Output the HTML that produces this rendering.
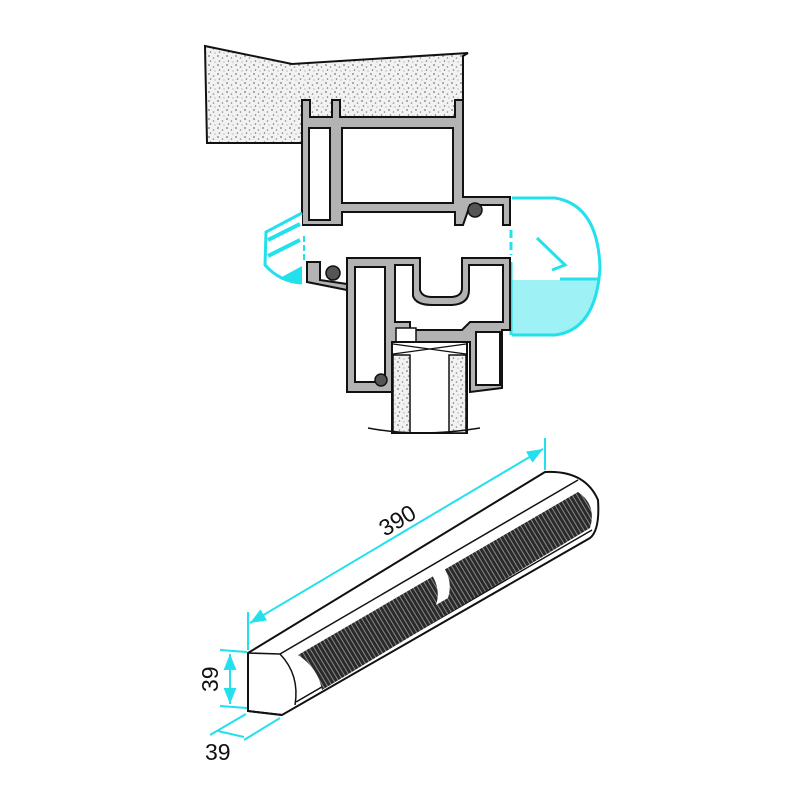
<!DOCTYPE html>
<html><head><meta charset="utf-8"><style>
html,body{margin:0;padding:0;background:#fff}
svg{display:block}
text{font-family:"Liberation Sans",sans-serif;fill:#111}
</style></head><body>
<svg width="800" height="800" viewBox="0 0 800 800" xmlns="http://www.w3.org/2000/svg">
<defs>
<pattern id="dots" width="9" height="9" patternUnits="userSpaceOnUse">
<rect width="9" height="9" fill="#f2f2f2"/>
<circle cx="2" cy="2" r="0.9" fill="#777"/><circle cx="6.5" cy="4" r="0.8" fill="#888"/>
<circle cx="3.5" cy="7" r="0.8" fill="#777"/><circle cx="8" cy="8" r="0.6" fill="#999"/>
</pattern>
<pattern id="grille" width="4" height="8" patternUnits="userSpaceOnUse" patternTransform="rotate(-31)">
<rect width="4" height="8" fill="#2a2a2a"/><rect x="3" width="1" height="8" fill="#888"/>
</pattern>
<marker id="ar" viewBox="0 0 10 10" refX="10" refY="5" markerWidth="8" markerHeight="8" orient="auto-start-reverse"><path d="M0,1 L10,5 L0,9 z" fill="#22e0ec"/></marker>
</defs>

<!-- concrete -->
<path d="M205,46 L292,64 L468,53 L463,56 L463,117 L302,117 L302,143 L207,143 Z" fill="url(#dots)" stroke="#111" stroke-width="2"/>

<!-- upper frame -->
<path fill-rule="evenodd" fill="#b3b3b3" stroke="#111" stroke-width="2"
d="M302,100 L310,100 L310,117 L332,117 L332,100 L340,100 L340,117 L455,117 L455,100 L463,100 L463,197 L510,197 L510,225 L503,225 L503,205 L470,205 L463,225 L455,225 L455,212 L342,212 L342,225 L302,225 Z
M309,128 L330,128 L330,220 L309,220 Z
M342,128 L453,128 L453,203 L342,203 Z"/>
<circle cx="475" cy="210" r="7" fill="#555" stroke="#111" stroke-width="1.5"/>

<!-- left cyan piece -->
<path d="M302,213 L266,232 L265,265 Q280,282 302,283" fill="#fff" stroke="#22e0ec" stroke-width="3"/>
<path d="M268,240 L300,224 M268,256 L300,240" stroke="#22e0ec" stroke-width="4"/>
<path d="M280,278 L302,266 L302,283 Z" fill="#22e0ec"/>
<line x1="304" y1="236" x2="304" y2="262" stroke="#22e0ec" stroke-width="2" stroke-dasharray="6,3"/>

<!-- right cyan -->
<path d="M512,280 L598,280 Q593,330 555,335 L512,335 Z" fill="#9ef2f6"/>
<path d="M512,198 L555,198 Q598,205 600,268 Q596,330 555,335 L512,335" fill="none" stroke="#22e0ec" stroke-width="3"/>
<line x1="511" y1="230" x2="511" y2="255" stroke="#22e0ec" stroke-width="3" stroke-dasharray="8,4"/>
<line x1="511" y1="262" x2="511" y2="335" stroke="#22e0ec" stroke-width="3"/>
<path d="M537,238 L565,265 L552,270 M560,279 L598,279" fill="none" stroke="#22e0ec" stroke-width="3"/>

<!-- lower sash -->
<path fill="#b3b3b3" stroke="#111" stroke-width="2"
d="M347,258 L420,258 L420,290 Q422,297 432,297 L452,297 Q462,296 462,288 L462,258 L510,258 L510,330 L502,330 L502,388 L470,392 L470,342 L393,342 L393,392 L347,392 Z"/>
<path fill="#fff" stroke="#111" stroke-width="2" d="M355,267 L385,267 L385,382 L355,382 Z"/>
<path fill="#fff" stroke="#111" stroke-width="2" d="M395,265 L413,265 L413,296 Q416,305 432,305 L452,305 Q469,304 469,290 L469,265 L503,265 L503,322 L470,322 L462,330 L410,330 L410,322 L395,322 Z"/>
<path fill="#fff" stroke="#111" stroke-width="2" d="M476,332 L500,332 L500,385 L476,385 Z"/>
<path d="M307,262 L320,262 L320,280 L347,284 L347,290 L307,282 Z" fill="#b3b3b3" stroke="#111" stroke-width="2"/>
<circle cx="333" cy="273" r="7" fill="#555" stroke="#111" stroke-width="1.5"/>
<circle cx="381" cy="380" r="6" fill="#555" stroke="#111" stroke-width="1.5"/>
<rect x="396" y="328" width="20" height="14" fill="#fff" stroke="#111" stroke-width="1.5"/>

<!-- glass -->
<rect x="392" y="342" width="75" height="91" fill="#fff" stroke="#111" stroke-width="2"/>
<rect x="393" y="355" width="17" height="78" fill="url(#dots)" stroke="#111" stroke-width="1.5"/>
<rect x="449" y="355" width="17" height="78" fill="url(#dots)" stroke="#111" stroke-width="1.5"/>
<path d="M393,344 L466,354 M393,354 L466,344" stroke="#111" stroke-width="1.2"/>
<path d="M368,428 Q420,438 480,428" fill="none" stroke="#111" stroke-width="1.5"/>

<!-- product bar -->
<path d="M248,653 L545,472 Q585,470 598,500 Q600,530 590,538 L282,715 L248,711 Z" fill="#fff" stroke="#111" stroke-width="2"/>
<path d="M248,653 L280,654 L578,480" fill="none" stroke="#111" stroke-width="1.5"/>
<path d="M280,654 Q300,675 295,705" fill="none" stroke="#111" stroke-width="1.5"/>
<path d="M296,702 L592,530" fill="none" stroke="#111" stroke-width="1.5"/>
<path d="M298,655 L578,492 Q597,505 590,528 L322,690 Q318,668 298,655 Z" fill="url(#grille)"/>
<path d="M432,575 L444,568 Q453,582 448,598 L436,605 Q441,590 432,575 Z" fill="#fff"/>
<path d="M248,653 L248,711 L282,715" fill="none" stroke="#111" stroke-width="2"/>

<!-- dimensions -->
<g stroke="#22e0ec" stroke-width="2" fill="none">
<line x1="248" y1="650" x2="248" y2="612"/>
<line x1="545" y1="470" x2="545" y2="438"/>
<line x1="250" y1="623" x2="543" y2="449" marker-start="url(#ar)" marker-end="url(#ar)"/>
<line x1="220" y1="650" x2="247" y2="652"/>
<line x1="220" y1="706" x2="247" y2="708"/>
<line x1="230" y1="654" x2="230" y2="704" marker-start="url(#ar)" marker-end="url(#ar)"/>
<line x1="246" y1="714" x2="210" y2="735"/>
<line x1="280" y1="718" x2="244" y2="740"/>
<line x1="218" y1="731" x2="244" y2="737"/>
</g>
<text x="0" y="0" font-size="23" transform="translate(385,537) rotate(-31)">390</text>
<text x="0" y="0" font-size="23" transform="translate(218,692) rotate(-90)">39</text>
<text x="205" y="760" font-size="23">39</text>
</svg>
</body></html>
